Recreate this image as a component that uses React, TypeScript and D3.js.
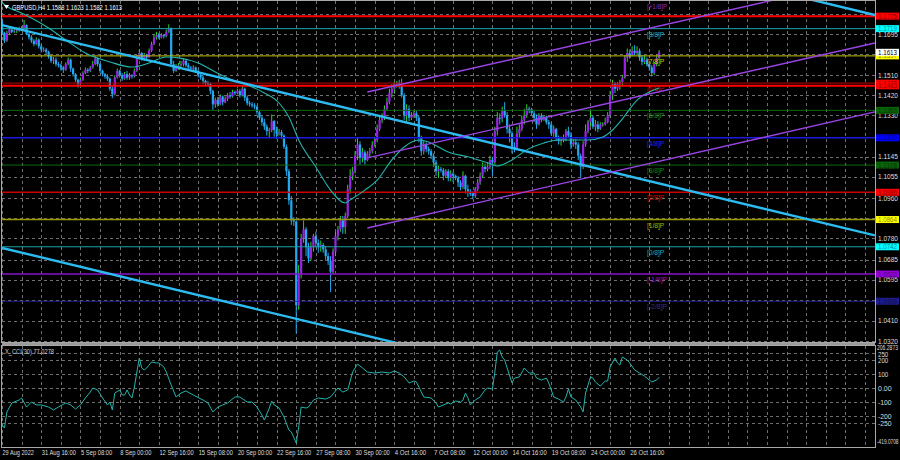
import React from "react";
import * as d3 from "d3";

// ---------- DATA ----------
const firstOpen = 1.175;
const closes = [
  1.1700,1.1665,1.1700,1.1715,1.1705,1.1710, 1.1718,1.1712,1.1722,1.1735,1.1695,1.1680,
  1.1665,1.1650,1.1670,1.1640,1.1625,1.1625, 1.1615,1.1595,1.1575,1.1580,1.1560,1.1555,
  1.1545,1.1535,1.1560,1.1580,1.1540,1.1515, 1.1490,1.1470,1.1490,1.1520,1.1535,1.1530,
  1.1545,1.1560,1.1585,1.1560,1.1530,1.1515, 1.1505,1.1495,1.1450,1.1425,1.1500,1.1530,
  1.1510,1.1495,1.1515,1.1500,1.1510,1.1505, 1.1530,1.1590,1.1610,1.1585,1.1600,1.1590,
  1.1620,1.1650,1.1680,1.1690,1.1680,1.1690, 1.1685,1.1705,1.1720,1.1560,1.1530,1.1545,
  1.1555,1.1560,1.1575,1.1555,1.1545,1.1540, 1.1545,1.1530,1.1510,1.1500,1.1485,1.1475,
  1.1470,1.1440,1.1380,1.1400,1.1380,1.1415, 1.1390,1.1405,1.1420,1.1415,1.1435,1.1430,
  1.1440,1.1420,1.1450,1.1410,1.1385,1.1380, 1.1375,1.1370,1.1345,1.1320,1.1300,1.1280,
  1.1260,1.1265,1.1305,1.1265,1.1250,1.1255, 1.1240,1.1190,1.1080,1.0950,1.0860,1.0855,
  1.0480,1.0620,1.0780,1.0820,1.0740,1.0690, 1.0740,1.0790,1.0760,1.0740,1.0750,1.0730,
  1.0700,1.0680,1.0630,1.0720,1.0790,1.0820, 1.0860,1.0830,1.0880,1.1000,1.1060,1.1080,
  1.1150,1.1200,1.1140,1.1165,1.1130,1.1160, 1.1170,1.1200,1.1220,1.1270,1.1310,1.1320,
  1.1360,1.1390,1.1430,1.1450,1.1470,1.1475, 1.1465,1.1420,1.1330,1.1360,1.1320,1.1330,
  1.1340,1.1320,1.1230,1.1170,1.1200,1.1180, 1.1170,1.1150,1.1120,1.1080,1.1090,1.1085,
  1.1060,1.1080,1.1050,1.1070,1.1060,1.1050, 1.1030,1.1010,1.1060,1.1000,1.0990,1.0980,
  1.0970,1.1000,1.1030,1.1060,1.1100,1.1090, 1.1100,1.1130,1.1120,1.1260,1.1320,1.1315,
  1.1350,1.1330,1.1270,1.1250,1.1190,1.1180, 1.1250,1.1270,1.1310,1.1330,1.1360,1.1355,
  1.1340,1.1320,1.1290,1.1330,1.1310,1.1320, 1.1300,1.1290,1.1250,1.1270,1.1230,1.1215,
  1.1220,1.1230,1.1260,1.1240,1.1200,1.1210, 1.1200,1.1150,1.1100,1.1200,1.1260,1.1300,
  1.1320,1.1280,1.1290,1.1270,1.1290,1.1290, 1.1300,1.1330,1.1420,1.1470,1.1450,1.1470,
  1.1480,1.1500,1.1590,1.1610,1.1600,1.1620, 1.1610,1.1620,1.1590,1.1570,1.1580,1.1560,
  1.1545,1.1520,1.1560,1.1588,1.1613,
];
const highs = [
  1.1765,1.1705,1.1710,1.1725,1.1722,1.1718, 1.1725,1.1728,1.1730,1.1758,1.1738,1.1700,
  1.1690,1.1672,1.1680,1.1675,1.1650,1.1635, 1.1632,1.1620,1.1600,1.1592,1.1590,1.1570,
  1.1562,1.1552,1.1568,1.1590,1.1585,1.1545, 1.1520,1.1495,1.1500,1.1528,1.1545,1.1542,
  1.1552,1.1575,1.1595,1.1590,1.1565,1.1535, 1.1520,1.1515,1.1500,1.1460,1.1510,1.1540,
  1.1535,1.1520,1.1525,1.1530,1.1520,1.1515, 1.1540,1.1600,1.1625,1.1615,1.1610,1.1605,
  1.1630,1.1660,1.1695,1.1705,1.1700,1.1698, 1.1695,1.1715,1.1738,1.1725,1.1575,1.1560,
  1.1565,1.1575,1.1585,1.1580,1.1565,1.1552, 1.1555,1.1550,1.1535,1.1520,1.1510,1.1490,
  1.1485,1.1478,1.1445,1.1410,1.1412,1.1425, 1.1420,1.1415,1.1430,1.1435,1.1445,1.1442,
  1.1450,1.1448,1.1460,1.1455,1.1420,1.1395, 1.1390,1.1385,1.1375,1.1350,1.1330,1.1315,
  1.1290,1.1275,1.1335,1.1310,1.1280,1.1270, 1.1265,1.1245,1.1200,1.1090,1.0970,1.0875,
  1.0860,1.0660,1.0800,1.0860,1.0830,1.0760, 1.0765,1.0800,1.0810,1.0775,1.0770,1.0760,
  1.0745,1.0715,1.0700,1.0735,1.0810,1.0835, 1.0880,1.0880,1.0895,1.1020,1.1090,1.1100,
  1.1170,1.1230,1.1215,1.1185,1.1175,1.1170, 1.1185,1.1215,1.1235,1.1290,1.1330,1.1340,
  1.1375,1.1410,1.1450,1.1470,1.1480,1.1485, 1.1490,1.1495,1.1430,1.1380,1.1375,1.1345,
  1.1355,1.1350,1.1330,1.1240,1.1215,1.1210, 1.1190,1.1180,1.1160,1.1130,1.1105,1.1100,
  1.1095,1.1090,1.1090,1.1085,1.1080,1.1065, 1.1060,1.1040,1.1080,1.1065,1.1020,1.1000,
  1.0990,1.1010,1.1045,1.1075,1.1120,1.1115, 1.1120,1.1150,1.1145,1.1280,1.1345,1.1340,
  1.1370,1.1390,1.1345,1.1290,1.1260,1.1210, 1.1280,1.1290,1.1330,1.1360,1.1380,1.1370,
  1.1365,1.1350,1.1335,1.1340,1.1340,1.1330, 1.1330,1.1310,1.1300,1.1285,1.1275,1.1240,
  1.1235,1.1245,1.1270,1.1280,1.1255,1.1225, 1.1225,1.1210,1.1160,1.1215,1.1290,1.1310,
  1.1350,1.1330,1.1310,1.1305,1.1300,1.1300, 1.1320,1.1345,1.1440,1.1490,1.1480,1.1480,
  1.1490,1.1510,1.1600,1.1630,1.1625,1.1640, 1.1645,1.1640,1.1630,1.1600,1.1600,1.1590,
  1.1575,1.1555,1.1570,1.1600,1.1623,
];
const lows = [
  1.1690,1.1655,1.1660,1.1690,1.1698,1.1700, 1.1700,1.1705,1.1708,1.1715,1.1690,1.1670,
  1.1655,1.1640,1.1645,1.1630,1.1612,1.1615, 1.1605,1.1585,1.1565,1.1560,1.1550,1.1545,
  1.1530,1.1520,1.1530,1.1555,1.1525,1.1505, 1.1480,1.1455,1.1462,1.1485,1.1515,1.1520,
  1.1525,1.1540,1.1555,1.1550,1.1520,1.1505, 1.1495,1.1485,1.1440,1.1408,1.1420,1.1495,
  1.1500,1.1485,1.1490,1.1490,1.1490,1.1495, 1.1500,1.1525,1.1580,1.1575,1.1575,1.1580,
  1.1590,1.1615,1.1645,1.1670,1.1672,1.1675, 1.1675,1.1680,1.1700,1.1550,1.1520,1.1525,
  1.1535,1.1545,1.1550,1.1545,1.1530,1.1530, 1.1530,1.1520,1.1500,1.1490,1.1470,1.1462,
  1.1460,1.1425,1.1355,1.1365,1.1370,1.1375, 1.1375,1.1385,1.1395,1.1405,1.1410,1.1420,
  1.1425,1.1410,1.1415,1.1395,1.1375,1.1370, 1.1365,1.1358,1.1335,1.1310,1.1285,1.1265,
  1.1240,1.1228,1.1255,1.1235,1.1225,1.1240, 1.1225,1.1180,1.1060,1.0930,1.0840,1.0835,
  1.0355,1.0460,1.0600,1.0760,1.0700,1.0670, 1.0680,1.0720,1.0740,1.0715,1.0720,1.0715,
  1.0680,1.0660,1.0540,1.0620,1.0700,1.0770, 1.0810,1.0800,1.0800,1.0870,1.0980,1.1040,
  1.1070,1.1130,1.1110,1.1120,1.1110,1.1125, 1.1140,1.1160,1.1190,1.1210,1.1260,1.1295,
  1.1310,1.1350,1.1380,1.1410,1.1430,1.1455, 1.1450,1.1410,1.1310,1.1300,1.1305,1.1310,
  1.1320,1.1305,1.1210,1.1150,1.1155,1.1165, 1.1155,1.1135,1.1100,1.1060,1.1050,1.1075,
  1.1040,1.1050,1.1035,1.1035,1.1030,1.1040, 1.1010,1.0995,1.1000,1.0980,1.0965,1.0970,
  1.0955,1.0960,1.0990,1.1020,1.1050,1.1075, 1.1080,1.1090,1.1060,1.1110,1.1240,1.1290,
  1.1300,1.1320,1.1250,1.1210,1.1160,1.1165, 1.1195,1.1230,1.1260,1.1290,1.1320,1.1340,
  1.1330,1.1300,1.1270,1.1285,1.1300,1.1305, 1.1290,1.1270,1.1240,1.1235,1.1215,1.1200,
  1.1195,1.1210,1.1215,1.1230,1.1180,1.1190, 1.1180,1.1130,1.1050,1.1090,1.1190,1.1250,
  1.1280,1.1270,1.1260,1.1255,1.1265,1.1280, 1.1285,1.1295,1.1320,1.1400,1.1430,1.1440,
  1.1445,1.1465,1.1495,1.1570,1.1585,1.1595, 1.1600,1.1600,1.1575,1.1555,1.1560,1.1550,
  1.1530,1.1505,1.1510,1.1550,1.1582,
];

// moving average (bar index, value)
const maBars = [0,3,7,12,19,26,34,44,53,60,67,72,80,87,94,102,107,113,117,121,128,134,140,142,148,153,159,164,170,174,178,182,190,198,202,208,214,221,227,233,239,245,249,252,259,268];
const maVals = [1.1835,1.1811,1.1794,1.1767,1.1722,1.1668,1.1610,1.1570,1.1547,1.1565,1.1592,1.1588,1.1565,1.1525,1.1489,1.1458,1.1431,1.1386,1.1323,1.1220,1.1099,1.0996,1.0938,1.0952,1.0996,1.1041,1.1131,1.1189,1.1220,1.1211,1.1189,1.1167,1.1145,1.1118,1.1104,1.1131,1.1176,1.1207,1.1220,1.1220,1.1220,1.1234,1.1265,1.1301,1.1399,1.1453];

// CCI (bar index, value)
const cciBars = [0,1,2,4,7,8,10,12,14,16,19,21,23,26,28,30,32,34,36,37,39,41,43,44,45,46,48,49,50,51,52,53,54,55,56,57,58,59,61,63,64,66,67,69,71,73,75,78,82,84,86,88,90,92,95,97,100,102,104,106,107,109,110,111,113,115,117,118,120,121,122,124,125,127,129,132,134,137,139,141,143,145,147,149,152,155,158,160,162,164,166,168,169,172,175,177,178,182,183,185,187,188,189,190,191,193,195,197,198,200,201,202,203,204,205,206,208,209,211,213,215,217,218,220,222,223,225,227,229,230,231,232,234,236,237,238,240,241,242,244,246,247,248,250,251,252,253,255,256,258,260,262,263,265,267,268];
const cciVals = [-264,-286,-171,-107,-86,-71,-136,-100,-121,-121,-136,-157,-136,-107,-121,-150,-121,-71,-29,0,-14,-71,-121,-100,-157,-36,-14,-50,-50,-14,-50,-71,7,114,214,143,129,143,186,179,179,150,114,21,-64,-36,-21,-50,-86,-107,-171,-136,-121,-107,-64,-64,-100,-100,-136,-193,-229,-143,-93,-121,-143,-207,-300,-314,-393,-279,-136,-143,-136,-86,-71,-79,-64,0,-29,-14,114,171,143,114,107,114,107,121,107,79,36,50,43,-64,-71,-107,-136,-107,-114,-93,-100,-86,-36,-71,-121,-86,-64,-14,0,-7,114,257,271,221,200,143,36,71,79,143,107,107,71,57,71,36,-64,-79,-100,-64,-7,-64,-86,-136,-171,-36,79,71,43,14,50,50,150,214,179,164,221,200,179,129,107,86,71,43,57,77];

const dateLabels = ["29 Aug 2022","31 Aug 16:00","5 Sep 08:00","8 Sep 00:00","12 Sep 16:00","15 Sep 08:00","20 Sep 00:00","22 Sep 16:00","27 Sep 08:00","30 Sep 00:00","4 Oct 16:00","7 Oct 08:00","12 Oct 00:00","14 Oct 16:00","19 Oct 08:00","24 Oct 00:00","26 Oct 16:00"];
const gridTicks = [1.1785,1.1695,1.1605,1.1510,1.1420,1.1330,1.1235,1.1145,1.1055,1.0960,1.0870,1.0780,1.0685,1.0595,1.0505,1.0410,1.0320];
const priceLabels = [1.1695,1.1510,1.1420,1.1330,1.1145,1.1055,1.0960,1.0780,1.0685,1.0595,1.0410,1.0320];

const levelPrices = [1.1775,1.1719,1.1597,1.1475,1.1463,1.1353,1.1230,1.1108,1.0986,1.0864,1.0742,1.0620,1.0498];
const levelColors = ["#ff0000","#1aa6aa","#c4c400","#c00000","#ff0000","#0d6a0d","#1a1ae0","#0d6a0d","#c80000","#9a9a00","#1aa6aa","#8a10cc","#22228e"];
const levelWidths = [2,1,1,1,2,1,1.5,1,1.5,1.5,1,1.5,1];
const boxColors = ["#ff0000","#00ffff","#ffff00","#ff0000","#ff0000","#0a640a","#0000ff","#0a640a","#ff0000","#ffff00","#00ffff","#9400d3","#1c1c8c"];
const bidPrice = 1.1613;

const murreyPrices = [1.1841,1.1719,1.1597,1.1475,1.1353,1.1230,1.1108,1.0986,1.0864,1.0742,1.0620,1.0498];
const murreyNames = ["[+1/8]P","[8/8]P","[7/8]P","[6/8]P","[5/8]P","[4/8]P","[3/8]P","[2/8]P","[1/8]P","[0/8]P","[-1/8]P","[-2/8]P"];
const murreyColors = ["#8a2ccc","#1db4b8","#d4d400","#e00000","#148a14","#2828ee","#148a14","#e00000","#b0b000","#1db4b8","#9418dc","#3030aa"];
const murreyBar = 263;

// trend lines: [bar0, price0, bar1, price1]
const cyanLines = [
  [0, 1.1735, 356, 1.0793],
  [0, 1.0737, 356, 0.9795],
  [0, 1.2722, 356, 1.1780],
];
const purpleLines = [
  [149, 1.1435, 356, 1.1950],
  [149, 1.1140, 356, 1.1655],
  [149, 1.0826, 356, 1.1346],
];

const cciTickVals = [250,200,100,0,-100,-200,-250];
const cciTickText = ["250","200","100","0.00","-100","-200","-250"];
const cciMaxText = "206.2873";
const cciMinText = "-419.0708";
const headerText = "GBPUSD,H4  1.1588 1.1623 1.1582 1.1613";
const cciTitle = "X_CCI(30) 77.0278";

// ---------- LAYOUT ----------
const W = 900, H = 460;
const PL = 2, PR = 875, MT = 1, MB = 342, IT = 346, IB = 447;
const FONT = "'Liberation Sans', Arial, sans-serif";

export default function App() {
  const x = d3.scaleLinear().domain([0, 356]).range([PL, PL + 2.452 * 356]);
  const y = d3.scaleLinear().domain([1.032, 1.1695]).range([341, 34]);
  const yc = d3.scaleLinear().domain([-100, 0]).range([402, 388]);

  const gridX: number[] = d3.range(0, 357, 8).map((i) => Math.round(x(i)) + 0.5);

  const candles = closes.map((c, i) => {
    const o = i === 0 ? firstOpen : closes[i - 1];
    return { i, o, c, h: highs[i], l: lows[i], bull: c >= o };
  });

  const maLine = d3.line<number>().x((_, k) => x(maBars[k])).y((v) => y(v)).curve(d3.curveMonotoneX)(maVals) || "";
  const cciLine = d3.line<number>().x((_, k) => x(cciBars[k])).y((v) => yc(v))(cciVals) || "";

  const dash = "3,3";
  const gridCol = "#6e6e6e";
  const txt = "#dedede";

  return (
    <div style={{ position: "fixed", left: 0, top: 0, width: W, height: H }}>
      <svg width={W} height={H} style={{ display: "block", background: "#000" }} fontFamily={FONT}>
        <defs>
          <clipPath id="main"><rect x={PL} y={MT} width={PR - PL} height={MB - MT} /></clipPath>
          <clipPath id="ind"><rect x={PL} y={IT} width={PR - PL} height={IB - IT} /></clipPath>
        </defs>
        <rect x={0} y={0} width={W} height={H} fill="#000" />

        {/* main grid */}
        <g stroke={gridCol} strokeDasharray={dash} shapeRendering="crispEdges" clipPath="url(#main)">
          {gridX.map((gx, k) => <line key={"vx" + k} x1={gx} x2={gx} y1={MT} y2={MB} />)}
          {gridTicks.map((t, k) => { const yy = Math.round(y(t)) + 0.5; return <line key={"hy" + k} x1={PL} x2={PR} y1={yy} y2={yy} />; })}
        </g>

        {/* candles */}
        <g clipPath="url(#main)">
          {candles.map((d) => {
            const cx = x(d.i);
            const top = y(Math.max(d.o, d.c));
            const bot = y(Math.min(d.o, d.c));
            const col = d.bull ? "#9a22e6" : "#22aaf0";
            return (
              <g key={d.i}>
                <line x1={cx} x2={cx} y1={y(d.h)} y2={y(d.l)} stroke={d.bull ? "#2bd62b" : "#22aaf0"} strokeWidth={1} />
                <rect x={cx - 1.1} y={top} width={2.2} height={Math.max(1, bot - top)} fill={col} />
              </g>
            );
          })}
        </g>

        {/* horizontal levels */}
        <g clipPath="url(#main)">
          {levelPrices.map((p, k) => <line key={"lv" + k} x1={PL} x2={PR} y1={y(p)} y2={y(p)} stroke={levelColors[k]} strokeWidth={levelWidths[k]} />)}
          {murreyPrices.map((p, k) => (
            <text key={"mu" + k} x={x(murreyBar)} y={y(p) + 8} fontSize={8} fill={murreyColors[k]}
              textLength={murreyNames[k].length * 2.9} lengthAdjust="spacingAndGlyphs">{murreyNames[k]}</text>
          ))}
        </g>

        {/* MA */}
        <path d={maLine} fill="none" stroke="#22b4ac" strokeWidth={1.1} clipPath="url(#main)" />

        {/* trend lines */}
        <g clipPath="url(#main)" fill="none">
          {cyanLines.map((l, k) => <line key={"cy" + k} x1={x(l[0])} y1={y(l[1])} x2={x(l[2])} y2={y(l[3])} stroke="#2cbcf2" strokeWidth={2.4} />)}
          {purpleLines.map((l, k) => <line key={"pu" + k} x1={x(l[0])} y1={y(l[1])} x2={x(l[2])} y2={y(l[3])} stroke="#9a44e6" strokeWidth={1.4} />)}
        </g>

        {/* header */}
        <path d="M4,5 L9,5 L6.5,9 Z" fill="#ffffff" />
        <text x={12} y={10} fontSize={7.5} fill="#ffffff" textLength={110} lengthAdjust="spacingAndGlyphs">{headerText}</text>

        {/* price axis labels */}
        {priceLabels.map((p, k) => (
          <text key={"pl" + k} x={878} y={y(p) + 2.5} fontSize={7.5} fill={txt} textLength={20} lengthAdjust="spacingAndGlyphs">{p.toFixed(4)}</text>
        ))}
        {/* level boxes */}
        {levelPrices.map((p, k) => (
          <g key={"bx" + k}>
            <rect x={876} y={y(p) - 3.5} width={23} height={7} fill={boxColors[k]} />
            <text x={878} y={y(p) + 2.5} fontSize={7} fill="rgba(0,0,0,0.5)" textLength={19} lengthAdjust="spacingAndGlyphs">{p.toFixed(4)}</text>
          </g>
        ))}
        <rect x={876} y={y(bidPrice) - 3.5} width={23} height={7} fill="#ffffff" />
        <text x={878} y={y(bidPrice) + 2.5} fontSize={7} fill="#000" textLength={19} lengthAdjust="spacingAndGlyphs">{bidPrice.toFixed(4)}</text>

        {/* main border */}
        <rect x={PL - 0.5} y={MT - 0.5} width={PR - PL + 1} height={MB - MT + 1} fill="none" stroke="#a8a8a8" strokeWidth={1} />
        <line x1={PL} x2={PR} y1={MB + 2} y2={MB + 2} stroke="#9a9a9a" strokeWidth={2} />

        {/* indicator grid */}
        <g stroke={gridCol} strokeDasharray={dash} shapeRendering="crispEdges" clipPath="url(#ind)">
          {gridX.map((gx, k) => <line key={"ivx" + k} x1={gx} x2={gx} y1={IT} y2={IB} />)}
          {cciTickVals.map((v, k) => { const yy = Math.round(yc(v)) + 0.5; return <line key={"ihy" + k} x1={PL} x2={PR} y1={yy} y2={yy} />; })}
        </g>
        <path d={cciLine} fill="none" stroke="#22b4ac" strokeWidth={1} clipPath="url(#ind)" />
        <text x={5} y={354} fontSize={7.5} fill="#d0d0d0" textLength={49} lengthAdjust="spacingAndGlyphs">{cciTitle}</text>
        <rect x={PL - 0.5} y={IT - 0.5} width={PR - PL + 1} height={IB - IT + 1} fill="none" stroke="#a8a8a8" strokeWidth={1} />

        {/* indicator axis labels */}
        <text x={877} y={IT + 4} fontSize={6.5} fill={txt} textLength={21} lengthAdjust="spacingAndGlyphs">{cciMaxText}</text>
        {cciTickVals.map((v, k) => (
          <text key={"cl" + k} x={878} y={yc(v) + 2.5 + (v === 250 ? 1.5 : v === -250 ? 0.5 : 0)} fontSize={7.5} fill={txt} textLength={cciTickText[k].length * 3.4} lengthAdjust="spacingAndGlyphs">{cciTickText[k]}</text>
        ))}
        <text x={877} y={IB - 3} fontSize={6.5} fill={txt} textLength={21.5} lengthAdjust="spacingAndGlyphs">{cciMinText}</text>

        {/* date labels */}
        {dateLabels.map((s, k) => (
          <text key={"dl" + k} x={x(k * 16) + 0.5} y={455} fontSize={7.5} fill={txt} textLength={s.length * 2.85} lengthAdjust="spacingAndGlyphs">{s}</text>
        ))}
      </svg>
    </div>
  );
}
